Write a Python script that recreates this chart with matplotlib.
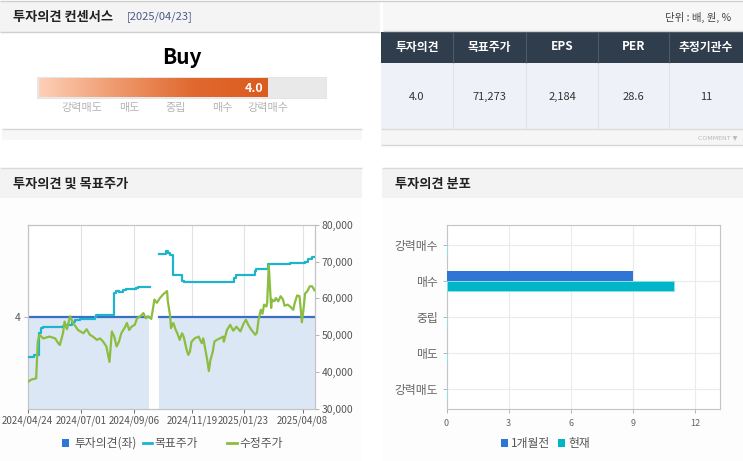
import numpy as np
import matplotlib
matplotlib.use('Agg')
import matplotlib.pyplot as plt
import matplotlib.dates as mdates
from matplotlib.colors import LinearSegmentedColormap
from matplotlib.patches import Rectangle
from matplotlib.ticker import FuncFormatter

plt.rcParams['font.family'] = ['Noto Sans CJK KR', 'DejaVu Sans']

W, H = 743, 461

# consensus summary
consensus_date = '2025/04/23'
opinion_label = 'Buy'
opinion_score = 4.0
scale_labels = ['강력매도', '매도', '중립', '매수', '강력매수']
table_cols = ['투자의견', '목표주가', 'EPS', 'PER', '추정기관수']
table_vals = ['4.0', '71,273', '2,184', '28.6', '11']

# 수정주가
price_dates = ['2024-04-24', '2024-04-29', '2024-05-05', '2024-05-07', '2024-05-09', '2024-05-14',
               '2024-05-22', '2024-05-29', '2024-06-02', '2024-06-04', '2024-06-08', '2024-06-10',
               '2024-06-13', '2024-06-17', '2024-06-21', '2024-06-27', '2024-07-04', '2024-07-08',
               '2024-07-12', '2024-07-16', '2024-07-21', '2024-07-25', '2024-07-29', '2024-08-02',
               '2024-08-06', '2024-08-09', '2024-08-12', '2024-08-15', '2024-08-18', '2024-08-21',
               '2024-08-26', '2024-08-28', '2024-08-31', '2024-09-03', '2024-09-07', '2024-09-10',
               '2024-09-14', '2024-09-18', '2024-09-21', '2024-09-24', '2024-09-28', '2024-10-02',
               '2024-10-05', '2024-10-09', '2024-10-13', '2024-10-18', '2024-10-19', '2024-10-22',
               '2024-10-23', '2024-10-26', '2024-10-29', '2024-10-31', '2024-11-03', '2024-11-06',
               '2024-11-08', '2024-11-12', '2024-11-14', '2024-11-16', '2024-11-18', '2024-11-22',
               '2024-11-27', '2024-12-01', '2024-12-03', '2024-12-06', '2024-12-08', '2024-12-10',
               '2024-12-12', '2024-12-15', '2024-12-17', '2024-12-20', '2024-12-24', '2024-12-28',
               '2024-12-29', '2025-01-02', '2025-01-06', '2025-01-10', '2025-01-14', '2025-01-19',
               '2025-01-23', '2025-01-26', '2025-01-29', '2025-02-02', '2025-02-07', '2025-02-09',
               '2025-02-11', '2025-02-14', '2025-02-16', '2025-02-18', '2025-02-21', '2025-02-22',
               '2025-02-24', '2025-02-25', '2025-02-27', '2025-02-28', '2025-03-03', '2025-03-05',
               '2025-03-08', '2025-03-11', '2025-03-14', '2025-03-16', '2025-03-20', '2025-03-23',
               '2025-03-27', '2025-03-29', '2025-04-01', '2025-04-04', '2025-04-06', '2025-04-07',
               '2025-04-09', '2025-04-11', '2025-04-14', '2025-04-17', '2025-04-20', '2025-04-23']
price_vals = [37200, 37900, 38200, 48200, 50100, 49100,
              49600, 49100, 47800, 47300, 50500, 53700,
              51600, 55100, 53300, 51400, 50500, 51600,
              50100, 49600, 48700, 49100, 48200, 46900,
              42700, 51000, 49600, 46900, 48200, 50500,
              52300, 53300, 51400, 52300, 52800, 54600,
              55100, 56000, 54600, 55100, 54400, 59700,
              58800, 60100, 61100, 62000, 59200, 55100,
              51900, 53300, 51400, 50500, 48700, 50500,
              49600, 45900, 44600, 45500, 48200, 49100,
              49600, 47800, 49100, 45500, 43200, 40200,
              43200, 45500, 48200, 48700, 49100, 49600,
              48200, 51400, 52800, 51200, 52300, 51000,
              53100, 54200, 52800, 51400, 50100, 50700,
              54200, 56900, 55800, 58300, 57800, 58900,
              69000, 65200, 57400, 59700, 59200, 60100,
              59200, 60600, 59700, 58000, 58300, 57800,
              56900, 58800, 60800, 60600, 56000, 53500,
              56900, 61300, 62000, 63300, 63300, 62200]

# 목표주가 (step changes, None = no data)
target_dates = ['2024-04-24', '2024-05-02', '2024-05-08', '2024-05-11', '2024-05-14', '2024-06-08',
                '2024-06-12', '2024-06-19', '2024-06-23', '2024-06-29', '2024-07-18', '2024-07-20',
                '2024-08-12', '2024-08-14', '2024-08-18', '2024-08-23', '2024-08-27', '2024-09-09',
                '2024-09-11', '2024-09-25', '2024-09-26', '2024-10-08', '2024-10-17', '2024-10-19',
                '2024-10-22', '2024-10-25', '2024-10-26', '2024-11-06', '2024-11-08', '2025-01-11',
                '2025-01-14', '2025-02-06', '2025-02-08', '2025-02-23', '2025-03-23', '2025-04-11',
                '2025-04-15', '2025-04-20', '2025-04-23']
target_vals = [44100, 44500, 50500, 51900, 52300, 52500,
               52800, 53700, 54100, 54500, 55000, 55400,
               61500, 62000, 61700, 62300, 62500, 62900,
               63200, 63200, None, 72000, 73000, 72500,
               71800, 68800, 66300, 64700, 64400, 65500,
               66500, 67500, 68100, 69500, 69700, 70000,
               70600, 71273, 71273]

# 투자의견 (좌)
opinion_dates = ['2024-04-24', '2024-09-25', '2024-09-26', '2024-10-08', '2025-04-23']
opinion_vals = [4, 4, None, 4, 4]

tick_dates = ['2024-04-24', '2024-07-01', '2024-09-06', '2024-11-19', '2025-01-23', '2025-04-08']

# 투자의견 분포
dist_cats = ['강력매도', '매도', '중립', '매수', '강력매수']
dist_prev = [0, 0, 0, 9, 0]
dist_now = [0, 0, 0, 11, 0]

fig = plt.figure(figsize=(7.43, 4.61), dpi=100)
fig.patch.set_facecolor('white')


def box(x0, y0, x1, y1):
    return [x0 / W, 1 - y1 / H, (x1 - x0) / W, (y1 - y0) / H]


bg = fig.add_axes([0, 0, 1, 1])
bg.axis('off')


def rect(x0, y0, x1, y1, fc, z=1):
    bg.add_patch(Rectangle((x0, y0), x1 - x0, y1 - y0, fc=fc, ec='none', zorder=z))


def hline(y, x0, x1, c='#d4d4d4', lw=1.0):
    bg.plot([x0, x1], [y, y], color=c, lw=lw, zorder=2, solid_capstyle='butt')


def vline(x, y0, y1, c, lw=0.8):
    bg.plot([x, x], [y0, y1], color=c, lw=lw, zorder=2, solid_capstyle='butt')


# ---- top left: consensus ----
rect(0, 1, 380, 32, '#f4f4f4')
hline(1, 0, 743, '#cfcfcf')
hline(32, 0, 380, '#cfcfcf')
bg.text(13, 17, '투자의견 컨센서스', fontsize=9.5, fontweight='bold', color='#222', va='center')
bg.text(127, 17, f'[{consensus_date}]', fontsize=8, color='#4a5a8a', va='center')
bg.text(182, 58, opinion_label, fontsize=15, fontweight='bold', color='black', ha='center', va='center')

rect(37, 77, 327, 99, '#e4e4e4', z=2)
rect(38, 78, 326, 98, '#e9e9e9', z=2)
fill_end = 39 + opinion_score / 5 * 286
cmap = LinearSegmentedColormap.from_list('op', ['#fdd0b8', '#ef9a6e', '#e06a30', '#dc5a1e'])
bg.imshow(np.linspace(0, 1, 256).reshape(1, -1), cmap=cmap, extent=(39, fill_end, 97, 79),
          aspect='auto', zorder=3)
bg.text(fill_end - 4, 88, f'{opinion_score:.1f}', fontsize=9, fontweight='bold', color='white',
        ha='right', va='center', zorder=4)
for xp, lab in zip([82, 129, 176, 222, 268], scale_labels):
    bg.text(xp, 108, lab, fontsize=8, color='#b4b4b4', ha='center', va='center')
hline(129.5, 2, 362, '#d6d6d6')
rect(2, 130, 362, 140, '#f7f7f7')

# ---- top right: table ----
rect(383, 1, 743, 32, '#f7f7f7')
hline(31.5, 383, 743, '#cfcfcf')
bg.text(731, 17, '단위 : 배, 원, %', fontsize=7.5, color='#444', ha='right', va='center')
rect(381, 32, 743, 63, '#2f3d4d')
rect(381, 63, 743, 129, '#eef1f8')
col_edges = [381, 453, 526, 598, 669, 743]
for xe in col_edges[1:-1]:
    vline(xe, 32, 63, '#4b5969')
    vline(xe, 63, 129, '#dde1e8')
for i in range(5):
    xc = (col_edges[i] + col_edges[i + 1]) / 2
    bg.text(xc, 47, table_cols[i], fontsize=8.5, fontweight='bold', color='white', ha='center', va='center')
    bg.text(xc, 97, table_vals[i], fontsize=8, color='#333', ha='center', va='center')
rect(381, 130, 743, 145, '#f6f6f6')
hline(129.5, 381, 743, '#dcdcdc')
hline(145.5, 381, 743, '#d6d6d6')
bg.text(737, 138, 'COMMENT ▼', fontsize=4.5, color='#b8b8b8', ha='right', va='center',
        family=['DejaVu Sans'])

# ---- bottom panels frames ----
for x0, x1, title in [(0, 362, '투자의견 및 목표주가'), (382, 743, '투자의견 분포')]:
    hline(168.5, x0, x1, '#dadada')
    rect(x0, 169, x1, 198, '#f3f3f3')
    rect(x0, 198, x1, 461, '#fdfdfd')
    bg.text(x0 + 13, 184, title, fontsize=9.5, fontweight='bold', color='#222', va='center')

bg.set_xlim(0, W)
bg.set_ylim(H, 0)

# ---- legends ----
bg.add_patch(Rectangle((62, 439), 7, 8, fc='#2e75d6', zorder=3))
bg.text(74, 443, '투자의견(좌)', fontsize=8.5, color='#555', va='center')
bg.plot([143, 152], [443, 443], color='#1cb5cc', lw=2, zorder=3)
bg.text(154, 443, '목표주가', fontsize=8.5, color='#555', va='center')
bg.plot([227, 237], [443, 443], color='#8bbd3f', lw=2, zorder=3)
bg.text(239, 443, '수정주가', fontsize=8.5, color='#555', va='center')
bg.add_patch(Rectangle((501, 439), 7, 8, fc='#2e75d6', zorder=3))
bg.text(511, 443, '1개월전', fontsize=8.5, color='#555', va='center')
bg.add_patch(Rectangle((558, 439), 7, 8, fc='#00b5c8', zorder=3))
bg.text(568, 443, '현재', fontsize=8.5, color='#555', va='center')

# ---- line chart ----
pd_ = np.array(price_dates, dtype='datetime64[D]')
td = np.array(target_dates, dtype='datetime64[D]')
tv = np.array([np.nan if v is None else v for v in target_vals], dtype=float)
od = np.array(opinion_dates, dtype='datetime64[D]')
ov = np.array([np.nan if v is None else v for v in opinion_vals], dtype=float)

ax = fig.add_axes(box(27.5, 225, 314.5, 408.5))
ax.set_facecolor('white')
ax.fill_between(od, 0, ov, where=~np.isnan(ov), color='#dce7f6', lw=0, zorder=1)
ax.plot(od, ov, color='#3a6fc6', lw=1.6, zorder=2)
ax.set_ylim(0, 8)
ax.set_yticks([4])
ax.set_yticklabels(['4'])
ax.set_xlim(np.datetime64('2024-04-24'), np.datetime64('2025-04-23'))
ax.set_xticks(np.array(tick_dates, dtype='datetime64[D]'))
ax.xaxis.set_major_formatter(mdates.DateFormatter('%Y/%m/%d'))
ax.grid(axis='x', color='#dfe3e8', lw=0.8)
ax.set_axisbelow(True)
ax.tick_params(axis='x', labelsize=7, colors='#555', length=3, width=0.6, pad=2)
ax.tick_params(axis='y', labelsize=7.5, colors='#aaa', labelcolor='#555', length=3, width=0.6, pad=2)
for s in ax.spines.values():
    s.set_color('#c4c4c4')

ax2 = ax.twinx()
ax2.plot(td, tv, color='#1cb5cc', lw=1.6, drawstyle='steps-post', zorder=3)
ax2.plot(pd_, price_vals, color='#8bbd3f', lw=1.6, zorder=4)
ax2.set_ylim(30000, 80000)
ax2.set_yticks(range(30000, 80001, 10000))
ax2.yaxis.set_major_formatter(FuncFormatter(lambda v, p: f'{int(v):,}'))
ax2.tick_params(axis='y', labelsize=7.5, colors='#aaa', labelcolor='#555', length=3, width=0.6, pad=2)
for s in ax2.spines.values():
    s.set_color('#c4c4c4')

# ---- bar chart ----
ax3 = fig.add_axes(box(446.5, 225, 720, 409))
ax3.set_facecolor('white')
yy = np.arange(len(dist_cats))
ax3.barh(yy + 0.14, dist_prev, height=0.28, color='#2e75d6', zorder=3)
ax3.barh(yy - 0.14, dist_now, height=0.28, color='#00b5c8', edgecolor='#8ae2ec', lw=0.6, zorder=3)
ax3.set_yticks(yy)
ax3.set_yticklabels(dist_cats)
ax3.set_ylim(-0.55, 4.55)
ax3.set_xlim(0, 13.2)
ax3.set_xticks([0, 3, 6, 9, 12])
ax3.grid(True, color='#ebebeb', lw=0.8)
ax3.set_axisbelow(True)
ax3.tick_params(axis='x', labelsize=6.5, colors='#aaa', labelcolor='#666', length=3, width=0.6, pad=4)
ax3.tick_params(axis='y', labelsize=8.5, colors='#aaa', labelcolor='#666', length=3, width=0.6, pad=3)
for s in ax3.spines.values():
    s.set_color('#c4c4c4')

fig.savefig('out.png', dpi=100)
